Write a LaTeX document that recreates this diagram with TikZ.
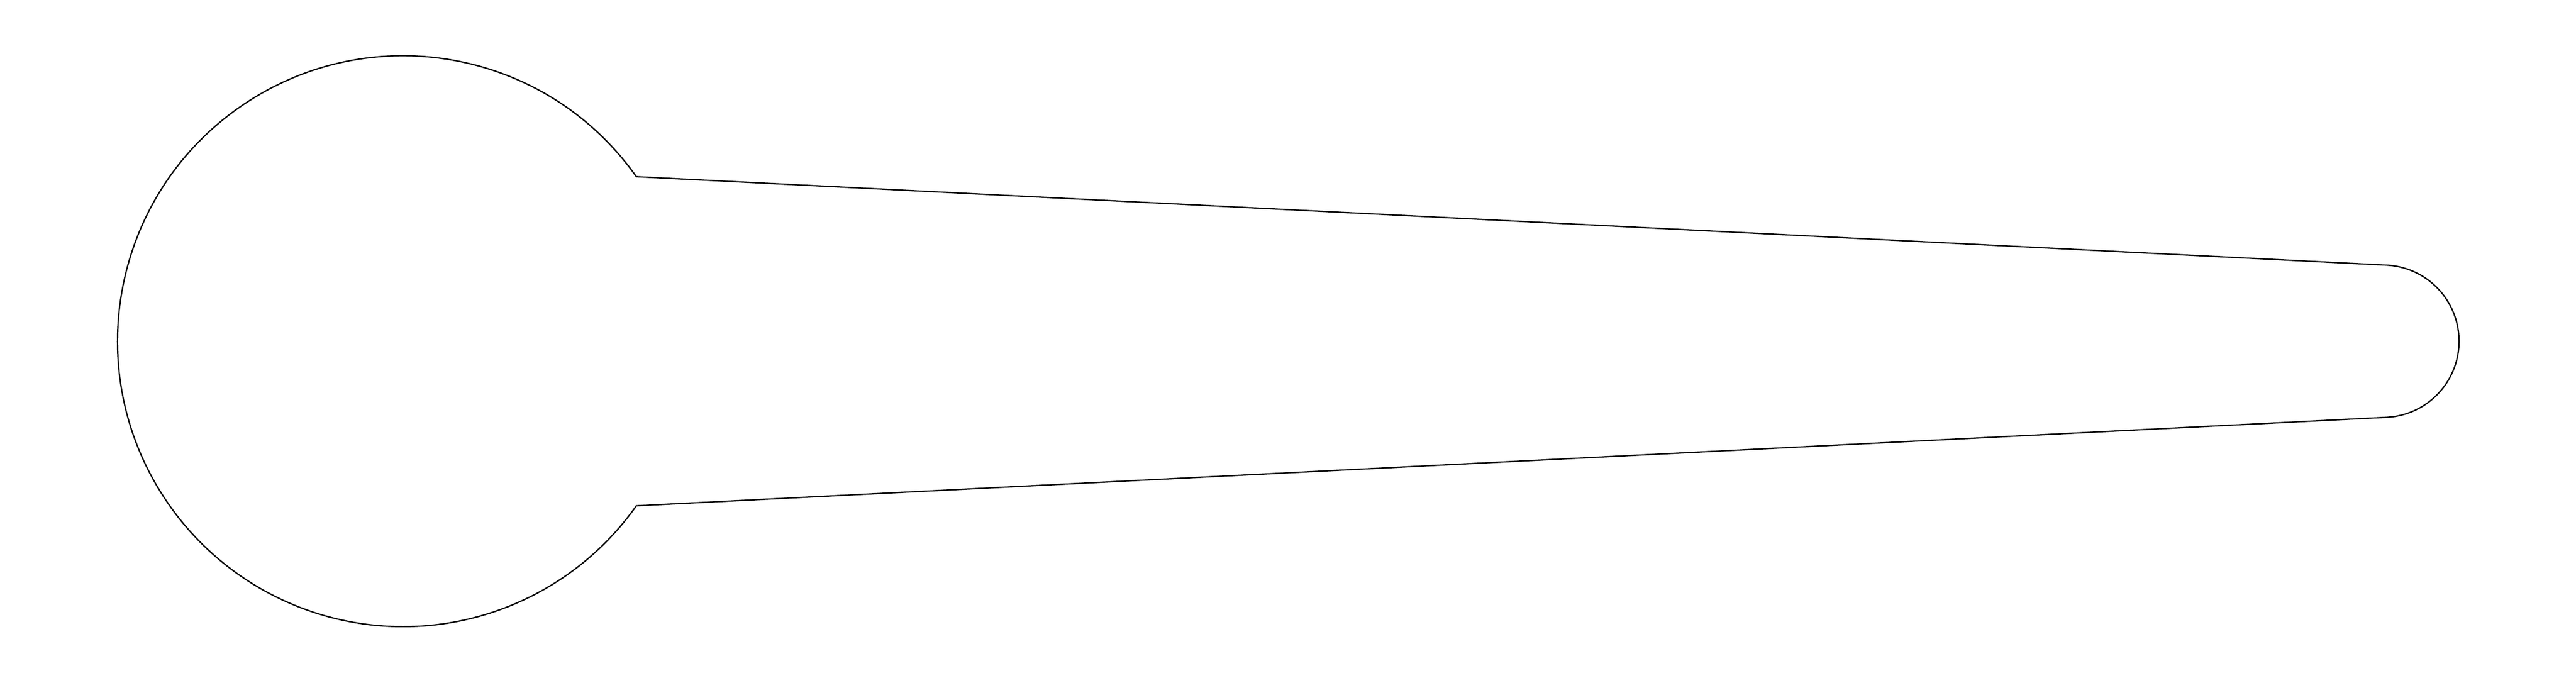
\documentclass[tikz,border=0pt]{standalone}
\usetikzlibrary{calc}
\begin{document}
\begin{tikzpicture}[line width=0.7pt]
   \useasboundingbox (0,0) rectangle (48,12.72);
   \coordinate (big) at (7.51,6.36);
   \coordinate (small) at (44.40,6.36);
   \coordinate (neckup) at ($(big)+(35.2:5.32)$);
   \coordinate (tipdown) at ($(small)+(-87.09:1.42)$);
   \draw (neckup) arc (35.2:324.8:5.32) -- (tipdown) arc (-87.09:87.09:1.42) -- cycle;
\end{tikzpicture}
\end{document}
